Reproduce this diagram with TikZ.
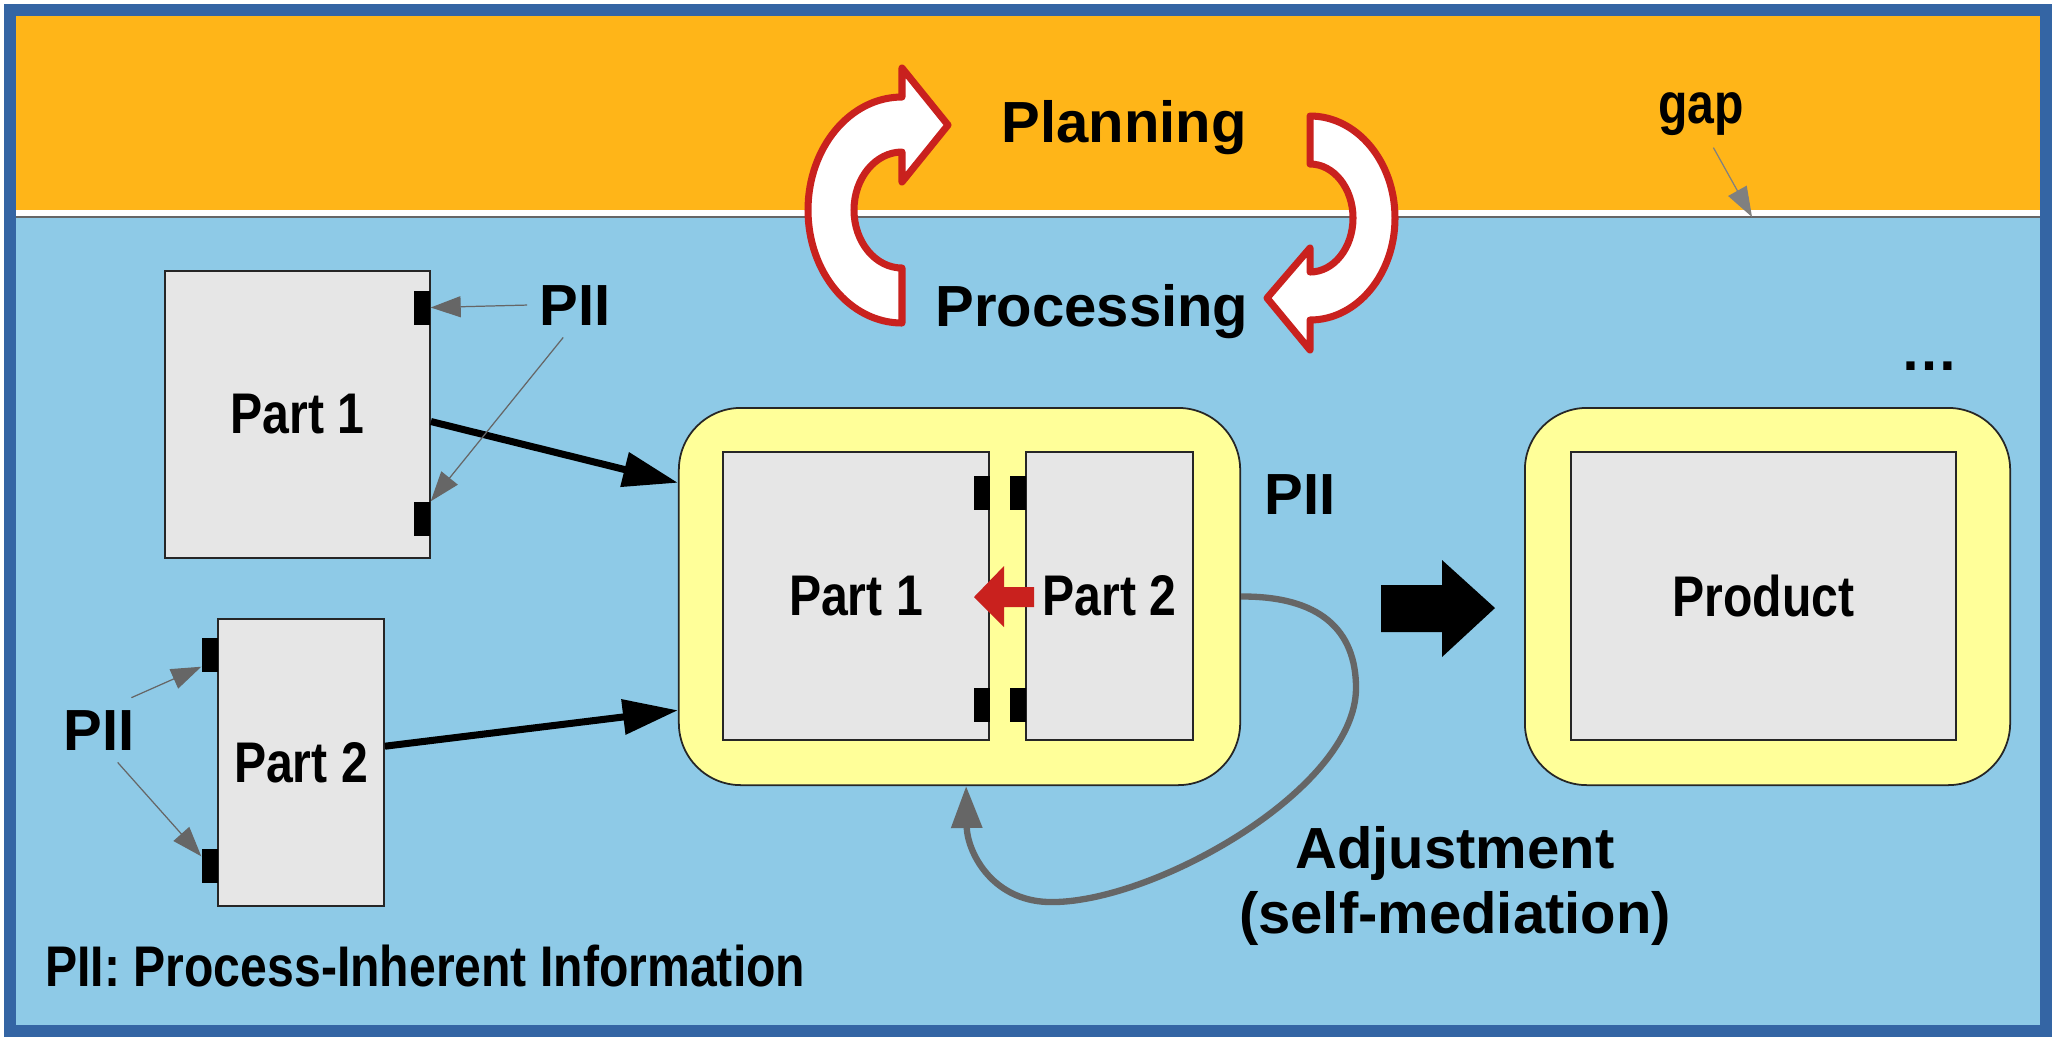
\documentclass[tikz,border=0pt]{standalone}
\usepackage{fontspec}
\setmainfont{Liberation Sans}
\newfontfamily\narrowfont{Liberation Sans}[FakeStretch=0.84]
\usetikzlibrary{arrows.meta}

\definecolor{frameblue}{HTML}{3465A4}
\definecolor{bandorange}{HTML}{FFB518}
\definecolor{skyblue}{HTML}{8ECAE7}
\definecolor{holderyellow}{HTML}{FFFF99}
\definecolor{partgray}{HTML}{E6E6E6}
\definecolor{loopred}{HTML}{C9211E}
\definecolor{pointergray}{HTML}{666666}

\tikzset{
  bigtxt/.style={font=\fontsize{16.5pt}{18.5pt}\selectfont\bfseries},
  slimtxt/.style={font=\narrowfont\fontsize{16.3pt}{19pt}\selectfont\bfseries},
  part/.style={draw=black!85, fill=partgray, line width=0.5pt, inner sep=0pt, slimtxt},
  holder/.style={draw=black!85, fill=holderyellow, rounded corners=0.62cm, line width=0.5pt},
  piitab/.style={fill=black, inner sep=0pt, minimum width=0.16cm, minimum height=0.34cm},
  joinarrow/.style={line width=2pt, -{Triangle[length=0.55cm,width=0.34cm]}},
  pointer/.style={pointergray, line width=0.35pt, -{Triangle[length=0.3cm,width=0.21cm]}},
  loop/.style={draw=loopred, fill=white, line width=2pt, line join=round},
}

\begin{document}
\begin{tikzpicture}[x=0.01cm,y=-0.01cm]
  \useasboundingbox (0,0) rectangle (2055,1038);

  % Background
  \fill[white] (0,0) rectangle (2055,1038);
  \fill[bandorange] (16,16) rectangle (2040,210);
  \fill[skyblue] (16,217) rectangle (2040,1025);
  \draw[black!60, line width=0.4pt] (16,217) -- (2040,217);
  \draw[frameblue, line width=3.4pt] (10,10) rectangle (2046,1031);

  % Planning / processing cycle
  \path[loop] (902,323) arc[start angle=90, end angle=270, x radius=94, y radius=113]
    -- (902,68) -- (948,125) -- (902,182) -- (902,152)
    arc[start angle=270, end angle=90, x radius=48, y radius=58] -- cycle;
  \path[loop] (1310,116) arc[start angle=270, end angle=450, x radius=85, y radius=102]
    -- (1310,350) -- (1267,298) -- (1310,248) -- (1310,272)
    arc[start angle=90, end angle=-90, x radius=43, y radius=54] -- cycle;
  \node[bigtxt, anchor=base] (plan) at (1124,142) {Planning};
  \node[bigtxt, anchor=base] (proc) at (1092,326) {Processing};

  % Loose parts
  \node[part, minimum width=2.65cm, minimum height=2.87cm] (p1) at (297.5,414.5) {Part 1};
  \node[part, minimum width=1.66cm, minimum height=2.87cm] (p2) at (301,762.5) {Part 2};
  \node[piitab] (t1a) at (422,307.5) {};
  \node[piitab] (t1b) at (422,519) {};
  \node[piitab] (t2a) at (210,655) {};
  \node[piitab] (t2b) at (210,866) {};

  % Assembly
  \node[holder, minimum width=5.61cm, minimum height=3.77cm] (asm) at (959.5,596.5) {};
  \node[part, minimum width=2.66cm, minimum height=2.88cm] (a1) at (856,596) {Part 1};
  \node[part, minimum width=1.67cm, minimum height=2.88cm] (a2) at (1109.5,596) {Part 2};
  \node[piitab] (a1t) at (981.5,493) {};
  \node[piitab] (a1b) at (981.5,705) {};
  \node[piitab] (a2t) at (1018,493) {};
  \node[piitab] (a2b) at (1018,705) {};
  \fill[loopred] (974,597) -- (1004,566) -- (1004,587) -- (1034,587)
    -- (1034,607) -- (1004,607) -- (1004,627) -- cycle;

  % Product
  \node[holder, minimum width=4.85cm, minimum height=3.77cm] (prod) at (1767.5,596.5) {};
  \node[part, minimum width=3.85cm, minimum height=2.88cm] (pbox) at (1763.5,596) {Product};
  \fill[black] (1381,585) -- (1442,585) -- (1442,560) -- (1495,608)
    -- (1442,657) -- (1442,632) -- (1381,632) -- cycle;

  % Labels
  \node[bigtxt, anchor=base] (piiTop) at (575,325) {PII};
  \node[bigtxt, anchor=base] (piiLeft) at (99,750) {PII};
  \node[bigtxt, anchor=base] (piiMid) at (1300,514) {PII};
  \node[slimtxt, anchor=base] (gapLbl) at (1701,123) {gap};
  \node[bigtxt, anchor=base] (more) at (1929,370) {…};
  \node[bigtxt, align=center] (adj) at (1455,886) {Adjustment\\(self-mediation)};
  \node[slimtxt, anchor=base west] (legend) at (33,986) {PII: Process-Inherent Information};
  \coordinate (gapline) at (1752,217);

  % Arrows
  \draw[joinarrow] (p1.-3) -- (asm.158);
  \draw[joinarrow] (p2.11) -- (asm.202);
  \draw[pointer] (piiTop.west) -- (t1a.east);
  \draw[pointer] (piiTop.-110) -- (t1b.north east);
  \draw[pointer] (piiLeft.45) -- ([yshift=0.06cm]t2a.south west);
  \draw[pointer] (piiLeft.-60) -- ([yshift=-0.08cm]t2b.north west);
  \draw[pointer, black!50] (gapLbl.-70) -- (gapline);
  \draw[pointergray, line width=1.8pt, -{Triangle[length=0.42cm,width=0.3cm]}]
    (asm.east) .. controls (1320,596) and (1356,630) .. (1356,688)
    .. controls (1356,790) and (1150,905) .. (1048,902)
    .. controls (990,900) and (967,850) .. (asm.-88);
\end{tikzpicture}
\end{document}
